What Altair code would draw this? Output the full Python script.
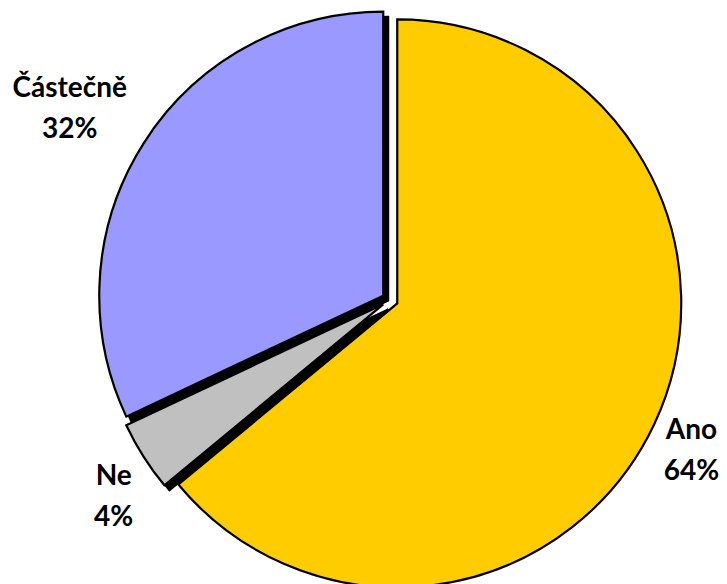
import altair as alt
import pandas as pd

# ---- data ----
categories = ["Ano", "Ne", "Částečně"]
values = [64, 4, 32]
pct_labels = ["64%", "4%", "32%"]
colors = ["#FFCC00", "#C0C0C0", "#9999FF"]

# ---- layout / style constants (view pixels) ----
CX, CY = 382, 292      # pie centre
R = 284                # pie radius
EXPLODE = 8            # explode distance
SHADOW = 5             # shadow offset
LABEL_R = 332          # label anchor radius
FONT = "Lato"
FS = 28

df = pd.DataFrame({
    "cat": categories,
    "val": values,
    "pct": pct_labels,
    "order": list(range(len(categories))),
})

base = alt.Chart(df).transform_joinaggregate(
    total="sum(val)"
).transform_window(
    cum="sum(val)", sort=[alt.SortField("order")]
).transform_calculate(
    t0="(datum.cum - datum.val) / datum.total * 2 * PI",
    t1="datum.cum / datum.total * 2 * PI",
).transform_calculate(
    mid="(datum.t0 + datum.t1) / 2"
).transform_calculate(
    px=f"{CX} + {EXPLODE} * sin(datum.mid)",
    py=f"{CY} - {EXPLODE} * cos(datum.mid)",
    lx=f"{CX} + {LABEL_R} * sin(datum.mid)",
    ly=f"{CY} - {LABEL_R} * cos(datum.mid)",
    lines="[datum.cat, datum.pct]",
)

color_scale = alt.Scale(domain=categories, range=colors)

shadow = base.transform_filter(alt.datum.cat != "Ano").transform_calculate(
    sx=f"datum.px + {SHADOW}", sy=f"datum.py + {SHADOW}"
).mark_arc(radius=R, fill="black", stroke="black", strokeWidth=2).encode(
    theta=alt.Theta("t0:Q", scale=None),
    theta2="t1:Q",
    x=alt.X("sx:Q", scale=None),
    y=alt.Y("sy:Q", scale=None),
)

slices = base.mark_arc(radius=R, stroke="black", strokeWidth=2.2, strokeJoin="miter").encode(
    theta=alt.Theta("t0:Q", scale=None),
    theta2="t1:Q",
    x=alt.X("px:Q", scale=None),
    y=alt.Y("py:Q", scale=None),
    fill=alt.Fill("cat:N", scale=color_scale, legend=None),
)


def label(cat, dx, dy):
    return base.transform_filter(alt.datum.cat == cat).mark_text(
        font=FONT, fontSize=FS, fontWeight="bold", color="black",
        align="center", baseline="alphabetic", lineHeight=41, dx=dx, dy=dy,
    ).encode(
        x=alt.X("lx:Q", scale=None),
        y=alt.Y("ly:Q", scale=None),
        text=alt.Text("lines:N"),
    )


chart = alt.layer(
    shadow,
    slices,
    label("Ano", 1, -2),
    label("Ne", 4, 7),
    label("Částečně", -40, -25),
).properties(
    width=711, height=576, padding=0, autosize=alt.AutoSizeParams(type="none")
).configure_view(stroke=None)

chart.save("out.html", embed_options={"renderer": "svg", "actions": False})
